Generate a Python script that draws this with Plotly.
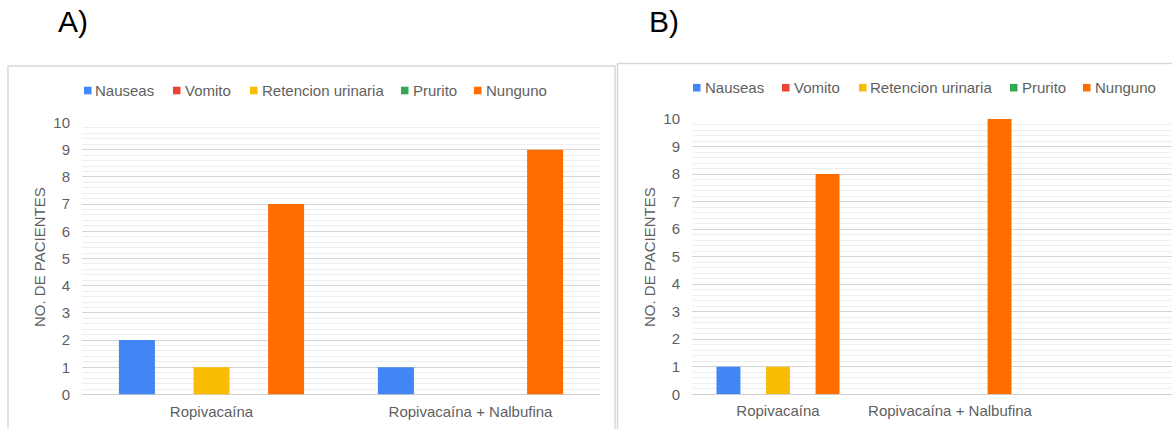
import plotly.graph_objects as go

# Categories and series
groups = ["Ropivacaína", "Ropivacaína + Nalbufina"]
series_names = ["Nauseas", "Vomito", "Retencion urinaria", "Prurito", "Nunguno"]
series_colors = ["#4285F4", "#EA4335", "#FBBC04", "#34A853", "#FF6D01"]

# Panel A counts per series (values for each group)
a_nauseas = [2, 1]
a_vomito = [0, 0]
a_retencion = [1, 0]
a_prurito = [0, 0]
a_nunguno = [7, 9]

# Panel B counts per series
b_nauseas = [1, 0]
b_vomito = [0, 0]
b_retencion = [1, 0]
b_prurito = [0, 0]
b_nunguno = [8, 10]

y_ticks = [0, 1, 2, 3, 4, 5, 6, 7, 8, 9, 10]
y_title = "NO. DE PACIENTES"
panel_labels = ["A)", "B)"]

W, H = 1172, 429
FONT = "Liberation Sans, Arial, sans-serif"
TXT = "#5f5f5f"


def px(x):
    return x / W


def py(y):
    return 1 - y / H


fig = go.Figure()

panel_a = [a_nauseas, a_vomito, a_retencion, a_prurito, a_nunguno]
panel_b = [b_nauseas, b_vomito, b_retencion, b_prurito, b_nunguno]

for vals, name, col in zip(panel_a, series_names, series_colors):
    fig.add_trace(go.Bar(x=groups, y=vals, name=name, marker_color=col,
                         marker_line_width=0, xaxis="x", yaxis="y",
                         showlegend=False, hoverinfo="x+y+name"))
for vals, name, col in zip(panel_b, series_names, series_colors):
    fig.add_trace(go.Bar(x=groups, y=vals, name=name, marker_color=col,
                         marker_line_width=0, xaxis="x2", yaxis="y2",
                         showlegend=False, hoverinfo="x+y+name"))

yaxis_common = dict(
    range=[0, 10], tickvals=y_ticks, showline=False, ticks="",
    gridcolor="#d4d4d4", gridwidth=1, zeroline=True, zerolinecolor="#cfcfcf",
    zerolinewidth=1, automargin=False,
    minor=dict(dtick=0.2, showgrid=True, gridcolor="#eeeeee", gridwidth=1),
    tickfont=dict(family=FONT, size=15, color=TXT),
    ticklabelstandoff=11, fixedrange=True,
)
xaxis_common = dict(
    type="category", showline=False, ticks="", showgrid=False,
    automargin=False, ticklabelstandoff=6,
    tickfont=dict(family=FONT, size=15, color=TXT), fixedrange=True,
)

fig.update_layout(
    width=W, height=H,
    margin=dict(l=0, r=0, t=0, b=0, autoexpand=False),
    paper_bgcolor="white", plot_bgcolor="white",
    barmode="group", bargap=0.28, bargroupgap=0.035,
    showlegend=False,
    xaxis=dict(domain=[px(82), px(600)], anchor="y", range=[-0.5, 1.5],
               **xaxis_common),
    yaxis=dict(domain=[py(394.5), py(122.5)], anchor="x", **yaxis_common),
    xaxis2=dict(domain=[px(692), 1.0], anchor="y2",
                range=[-0.5, -0.5 + (W - 692) / 172], **xaxis_common),
    yaxis2=dict(domain=[py(394.3), py(119)], anchor="x2", **yaxis_common),
)

# Panel frames
fig.add_shape(type="rect", xref="paper", yref="paper",
              x0=px(8), x1=px(615), y0=py(440), y1=py(66),
              line=dict(color="#d9d9d9", width=1.5), layer="below")
fig.add_shape(type="rect", xref="paper", yref="paper",
              x0=px(617.5), x1=px(1185), y0=py(440), y1=py(63.5),
              line=dict(color="#d9d9d9", width=1.5), fillcolor="white",
              layer="below")

# Panel letters
for label, cx in zip(panel_labels, [72.5, 664]):
    fig.add_annotation(text=label, xref="paper", yref="paper",
                       x=px(cx), y=py(21), xanchor="center", yanchor="middle",
                       showarrow=False,
                       font=dict(family=FONT, size=30, color="#000000"))

# Rotated axis titles
for cx, cy in [(39, 257), (649, 257)]:
    fig.add_annotation(text=y_title, xref="paper", yref="paper",
                       x=px(cx), y=py(cy), xanchor="center", yanchor="middle",
                       textangle=-90, showarrow=False,
                       font=dict(family=FONT, size=15, color=TXT))

# Legends drawn as small swatches with labels
legend_rows = [
    ([84, 173, 250, 401, 474], 90.5),
    ([693, 782, 859, 1010, 1083], 87.7),
]
for xs, ly in legend_rows:
    for x0, name, col in zip(xs, series_names, series_colors):
        fig.add_shape(type="rect", xref="paper", yref="paper",
                      x0=px(x0), x1=px(x0 + 7.5), y0=py(ly + 3.8),
                      y1=py(ly - 3.8), line=dict(width=0), fillcolor=col)
        fig.add_annotation(text=name, xref="paper", yref="paper",
                           x=px(x0 + 9.5), y=py(ly), xanchor="left",
                           yanchor="middle", showarrow=False,
                           font=dict(family=FONT, size=15, color=TXT))

fig.write_html("out.html")
